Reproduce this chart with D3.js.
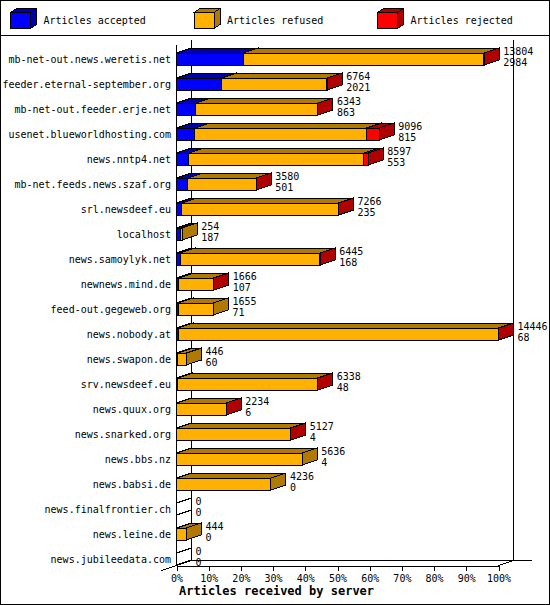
<!DOCTYPE html>
<html>
<head>
<meta charset="utf-8">
<script src="https://d3js.org/d3.v7.min.js"></script>
<style>
  body { margin: 0; background: white; }
  svg { display: block; }
  text { font-family: "DejaVu Sans Mono", monospace; font-size: 10px; fill: black; }
  .title { font-size: 12px; font-weight: bold; }
  path, line, rect { shape-rendering: crispEdges; }
</style>
</head>
<body>
<div id="chart"></div>
<script>
// values (top label = total, bottom label = accepted)
servers = ["mb-net-out.news.weretis.net", "feeder.eternal-september.org", "mb-net-out.feeder.erje.net",
  "usenet.blueworldhosting.com", "news.nntp4.net", "mb-net.feeds.news.szaf.org", "srl.newsdeef.eu",
  "localhost", "news.samoylyk.net", "newnews.mind.de", "feed-out.gegeweb.org", "news.nobody.at",
  "news.swapon.de", "srv.newsdeef.eu", "news.quux.org", "news.snarked.org", "news.bbs.nz",
  "news.babsi.de", "news.finalfrontier.ch", "news.leine.de", "news.jubileedata.com"]
totals   = [13804, 6764, 6343, 9096, 8597, 3580, 7266, 254, 6445, 1666, 1655, 14446, 446, 6338, 2234, 5127, 5636, 4236, 0, 444, 0]
accepted = [2984, 2021, 863, 815, 553, 501, 235, 187, 168, 107, 71, 68, 60, 48, 6, 4, 4, 0, 0, 0, 0]
refused  = [10800, 4728, 5470, 7711, 7854, 3069, 7016, 67, 6265, 1551, 1584, 14358, 386, 6280, 2223, 5115, 5632, 4236, 0, 444, 0]
rejected = [20, 15, 10, 570, 190, 10, 15, 0, 12, 8, 0, 20, 0, 10, 5, 8, 0, 0, 0, 0, 0]

seriesNames = ["Articles accepted", "Articles refused", "Articles rejected"]
percentTicks = [0, 10, 20, 30, 40, 50, 60, 70, 80, 90, 100]

colors = ["#0000ff", "#ffb000", "#ff0000"]
darks  = ["#0000b0", "#b07a00", "#b00000"]

width = 550
height = 605
dx = 15, dy = 5

svg = d3.select("#chart").append("svg")
  .attr("width", width)
  .attr("height", height)

svg.append("rect")
  .attr("x", 0.5).attr("y", 0.5)
  .attr("width", width - 1).attr("height", height - 1)
  .attr("fill", "white").attr("stroke", "black")

svg.append("line")
  .attr("x1", 0).attr("x2", width)
  .attr("y1", 35.5).attr("y2", 35.5)
  .attr("stroke", "black")

function face(pts) {
  return "M" + pts.map(p => p[0] + "," + p[1]).join("L") + "Z"
}

// legend
legend = svg.selectAll(".legend")
  .data(seriesNames)
  .enter().append("g")
  .attr("class", "legend")
  .attr("transform", (d, i) => "translate(" + (10.5 + i * 183.5) + ",12.5)")

legend.append("rect")
  .attr("width", 20).attr("height", 16)
  .attr("fill", (d, i) => colors[i]).attr("stroke", "black")
legend.append("path")
  .attr("d", face([[0, 0], [20, 0], [26, -4], [6, -4]]))
  .attr("fill", (d, i) => darks[i]).attr("stroke", "black")
legend.append("path")
  .attr("d", face([[20, 0], [26, -4], [26, 12], [20, 16]]))
  .attr("fill", (d, i) => darks[i]).attr("stroke", "black")
legend.append("text")
  .attr("x", 33).attr("y", 11)
  .text(d => d)

// scales
x = d3.scaleLinear().domain([0, d3.max(totals)]).range([176.5, 498.5])
xp = d3.scaleLinear().domain([0, 100]).range([176.5, 498.5])
y = d3.scaleBand().domain(servers).range([40.5, 565.5])

// back walls / floor
walls = svg.append("g").attr("stroke", "black").attr("fill", "none")
walls.append("line").attr("x1", 191.5).attr("x2", 191.5).attr("y1", 40).attr("y2", 560.5)
walls.append("line").attr("x1", 513.5).attr("x2", 513.5).attr("y1", 40).attr("y2", 560.5)
walls.append("line").attr("x1", 191.5).attr("x2", 532).attr("y1", 560.5).attr("y2", 560.5)
walls.append("line").attr("x1", 161.5).attr("x2", 191.5).attr("y1", 570.5).attr("y2", 560.5)
walls.append("line").attr("x1", 498.5).attr("x2", 513.5).attr("y1", 565.5).attr("y2", 560.5)
walls.append("line").attr("x1", 176.5).attr("x2", 176.5).attr("y1", 45).attr("y2", 565.5)

// x axis on the front floor
svg.append("g")
  .attr("transform", "translate(0,565.5)")
  .call(d3.axisBottom(xp).tickValues(percentTicks).tickFormat(d => d + "%").tickSize(5).tickSizeOuter(0))
  .call(g => g.selectAll("text").attr("dy", null).attr("y", 16.5)
    .style("font-family", '"DejaVu Sans Mono", monospace').style("font-size", "10px"))
  .call(g => g.selectAll("line, path").attr("stroke", "black"))

svg.append("text")
  .attr("class", "title")
  .attr("x", 179).attr("y", 595)
  .text("Articles received by server")

// bars
rows = svg.selectAll(".row")
  .data(servers)
  .enter().append("g")
  .attr("class", "row")

rows.each(function(s, i) {
  g = d3.select(this)
  t = y(s) + 12.5
  b = t + 12
  vals = [accepted[i], refused[i], rejected[i]]
  start = 0
  vals.forEach(function(v, k) {
    empty = totals[i] == 0
    if (v == 0 && !(empty && k == 0)) return
    x0 = x(start), x1 = x(start + v)
    start += v
    g.append("rect")
      .attr("x", x0).attr("y", t)
      .attr("width", x1 - x0).attr("height", b - t)
      .attr("fill", empty ? "none" : colors[k]).attr("stroke", "black")
    g.append("path")
      .attr("d", face([[x0, t], [x1, t], [x1 + dx, t - dy], [x0 + dx, t - dy]]))
      .attr("fill", empty ? "none" : darks[k]).attr("stroke", "black")
    g.append("path")
      .attr("d", face([[x1, t], [x1 + dx, t - dy], [x1 + dx, b - dy], [x1, b]]))
      .attr("fill", empty ? "none" : darks[k]).attr("stroke", "black")
  })
  end = x(totals[i]) + dx + 4
  g.append("text").attr("x", end).attr("y", t + 1.5).text(totals[i])
  g.append("text").attr("x", end).attr("y", t + 12.5).text(accepted[i])
  g.append("text")
    .attr("x", 171).attr("y", t + 9.5)
    .attr("text-anchor", "end")
    .text(s)
})
</script>
</body>
</html>
